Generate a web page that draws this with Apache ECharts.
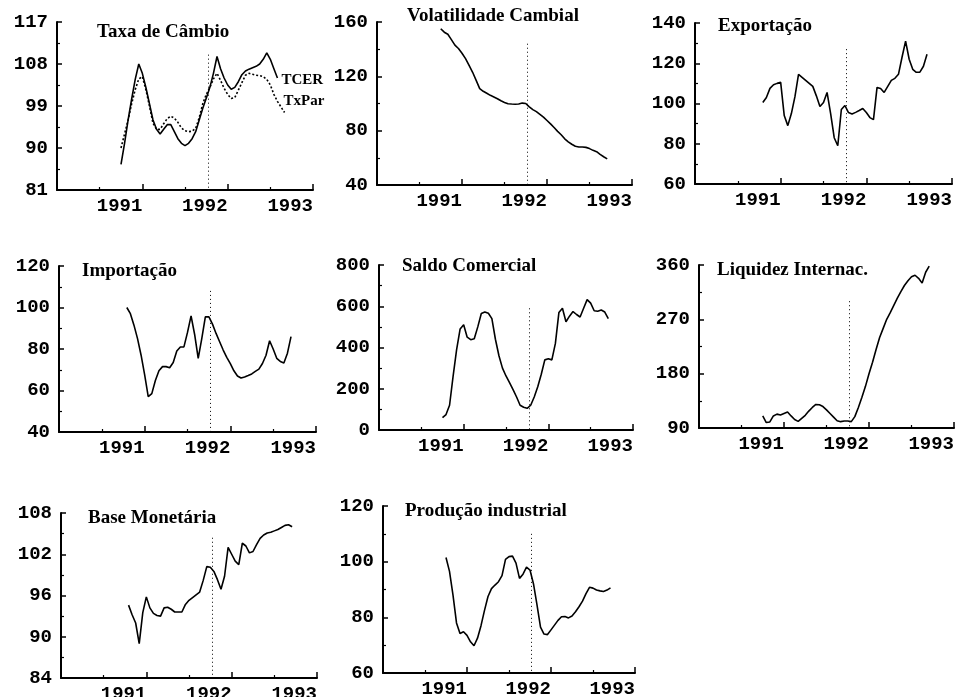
<!DOCTYPE html>
<html>
<head>
<meta charset="utf-8">
<script src="https://cdn.jsdelivr.net/npm/echarts@6/dist/echarts.min.js"></script>
<style>
  html, body { margin: 0; padding: 0; background: #fff; }
  #chart { width: 958px; height: 697px; }
</style>
</head>
<body>
<div id="chart"></div>
<script>
// Semi-monthly observations, Oct 1990 – Sep 1992
const dates = [
  '1990-10-01','1990-10-16','1990-11-01','1990-11-16','1990-12-01','1990-12-16',
  '1991-01-01','1991-01-16','1991-02-01','1991-02-16','1991-03-01','1991-03-16',
  '1991-04-01','1991-04-16','1991-05-01','1991-05-16','1991-06-01','1991-06-16',
  '1991-07-01','1991-07-16','1991-08-01','1991-08-16','1991-09-01','1991-09-16',
  '1991-10-01','1991-10-16','1991-11-01','1991-11-16','1991-12-01','1991-12-16',
  '1992-01-01','1992-01-16','1992-02-01','1992-02-16','1992-03-01','1992-03-16',
  '1992-04-01','1992-04-16','1992-05-01','1992-05-16','1992-06-01','1992-06-16',
  '1992-07-01','1992-07-16','1992-08-01','1992-08-16','1992-09-01','1992-09-16'
];

// Date of the event marked by the dotted vertical line
const markerDate = '1991-10-08';

const tcer = [86.5,91,96,100.5,104.7,108,106,103,99.5,96,
  94,93,94,95,95,93.5,92,91,90.5,91,
  92,93.5,96,98.5,100.7,103,106,109.6,107,105,
  103.5,102.6,103,104.2,105.7,106.5,106.9,107.2,107.5,108,
  109,110.4,109,107,105];

const txpar = [90,93,96,99.5,102.5,104.8,105.3,102.5,99,95.3,
  94,94,95.2,96.3,96.8,96.4,95.5,94.3,93.7,93.5,
  93.6,94.2,96.5,99.5,101.5,103,104.8,106,104.5,102.8,
  101.5,100.6,100.8,102.4,104,105.6,106,105.8,105.6,105.5,
  105.3,104.7,103.5,101.5,100,98.8,97.6];

const volatilidade = [155,152.5,151,147,143,140.5,137,133,128,123,
  117,111,109,107.5,106,104.8,103.5,102,100.8,99.8,
  99.6,99.5,99.6,100.3,100,97.5,95.5,94,92,90,
  87.5,85,82.3,79.5,77,74,71.8,70,68.5,68,
  68,67.7,66.8,65.5,64.5,62.5,60.8,59.2];

const exportacao = [null,100.5,103,107.5,109.3,110,110.5,94,89,95,
  103.4,114.5,113,111.5,110,108.5,103.8,98.5,100.5,105.5,
  95,83,79,97,99,95.5,94.8,95.6,96.5,97.5,
  95.5,93,92,108,107.5,105.5,108.5,111.5,112.5,114.5,
  123,131,122,117,115.5,115.6,118.5,124.5];

const importacao = [null,100,97,91.5,85,77,67.5,57,58.5,64.8,
  69.5,71.5,71.5,71,73.5,79,81,81,88,96,
  87,75.5,85,95.5,95.5,92,87.5,83.5,79.5,76,
  73,69.5,67,66,66.5,67.2,68,69.2,70.3,73,
  77,84,80,75.5,74,73.3,78,86];

const saldo = [60,75,120,260,390,490,510,450,438,442,
  500,565,572,566,540,440,360,300,262,230,
  196,160,120,110,105,120,160,210,270,340,
  345,340,420,570,590,525,552,574,560,548,
  590,632,615,578,576,582,572,540];

const liquidez = [110,99,100,110,113,111.5,114,116.5,110,104,
  101,106,111,118,124,129,128.5,125.5,120,114,
  108,102,100.5,101.5,101.5,100.5,108.8,124,141,159,
  180,199,220,240,255,270,281,293,305,316,
  326,334,340.5,343,338,330,348,358];

const baseMonetaria = [null,94.6,93.2,92,89,93.5,95.8,94.2,93.4,93.1,
  93,94.2,94.3,94,93.6,93.6,93.6,94.7,95.3,95.7,
  96.1,96.5,98.2,100.2,100.1,99.5,98.3,96.9,98.8,103,
  102,101,100.5,103.6,103.2,102.2,102.4,103.4,104.3,104.8,
  105.1,105.2,105.4,105.6,105.9,106.2,106.3,106];

const producao = [101.5,96.5,88,78,74.2,74.8,73.5,71.2,69.8,72.5,
  77,82.5,87.5,90.3,91.6,92.8,95,100.8,101.8,102,
  99.5,94,95.5,98,97,92,84.5,76.5,74,73.8,
  75.5,77.2,78.9,80.2,80.3,79.8,80.5,82,83.8,85.8,
  88.5,90.8,90.5,89.8,89.5,89.3,89.8,90.6];

// Y scales: [min, max, step] per panel
const yScales = [[81,117,9],[40,160,40],[60,140,20],[40,120,20],[0,800,200],[90,360,90],[84,108,6],[60,120,20]];
// Upper end of the event line, in each panel's own units
const markerTops = [110,144,127,108,590,300,104.4,110];
const titles = ['Taxa de Câmbio','Volatilidade Cambial','Exportação','Importação',
  'Saldo Comercial','Liquidez Internac.','Base Monetária','Produção industrial'];
const xYears = [1990, 1993, 1];

function toYear(s) {
  const [y, m, d] = s.split('-').map(Number);
  return y + (m - 1) / 12 + (d - 1) / 360;
}
const xs = dates.map(toYear);
const markerX = toYear(markerDate);

// Layout of the 3x3 grid of panels (last cell empty)
const boxes = [
  [57,22,256,168],[377,22,255,163],[695,23,257,161],
  [59,266,257,166],[379,265,254,165],[699,265,255,163],
  [61,513,256,165],[383,506,252,167]
];
const titlePos = [[97,23],[407,7],[718,17],[82,262],[402,257],[717,261],[88,509],[405,502]];

const panelSeries = [
  [{ name: 'TCER', values: tcer, dash: 'solid', end: { text: 'TCER', offset: [-1, 2] } },
   { name: 'TxPar', values: txpar, dash: [2, 2], end: { text: 'TxPar', offset: [-6, -11] } }],
  [{ name: 'Volatilidade', values: volatilidade, dash: 'solid' }],
  [{ name: 'Exportação', values: exportacao, dash: 'solid' }],
  [{ name: 'Importação', values: importacao, dash: 'solid' }],
  [{ name: 'Saldo', values: saldo, dash: 'solid' }],
  [{ name: 'Liquidez', values: liquidez, dash: 'solid' }],
  [{ name: 'Base', values: baseMonetaria, dash: 'solid' }],
  [{ name: 'Produção', values: producao, dash: 'solid' }]
];

const monoFont = { fontFamily: 'Liberation Mono', fontWeight: 'bold', fontSize: 19, color: '#000' };
const serifFont = { fontFamily: 'Liberation Serif', fontWeight: 'bold', color: '#000' };

const grid = [], xAxis = [], yAxis = [], title = [], series = [];

boxes.forEach((b, i) => {
  grid.push({ left: b[0], top: b[1], width: b[2], height: b[3], outerBoundsMode: 'none' });
  xAxis.push({
    type: 'value', gridIndex: i, min: xYears[0], max: xYears[1], interval: xYears[2],
    axisLine: { onZero: false, lineStyle: { color: '#000', width: 2 } },
    axisTick: { inside: true, length: 6, lineStyle: { color: '#000', width: 1.5 } },
    minorTick: { show: true, splitNumber: 2, length: 3, lineStyle: { color: '#000', width: 1.2 } },
    splitLine: { show: false },
    axisLabel: Object.assign({ formatter: v => (v === xYears[0] ? '' : String(v)), align: 'right', margin: 7 }, monoFont)
  });
  const [ymin, ymax, ystep] = yScales[i];
  yAxis.push({
    type: 'value', gridIndex: i, min: ymin, max: ymax, interval: ystep,
    axisLine: { show: true, onZero: false, lineStyle: { color: '#000', width: 2 } },
    axisTick: { show: true, inside: true, length: 5, lineStyle: { color: '#000', width: 1.5 } },
    minorTick: { show: true, splitNumber: 2, length: 3, lineStyle: { color: '#000', width: 1.2 } },
    splitLine: { show: false },
    axisLabel: Object.assign({ margin: 9 }, monoFont)
  });
  title.push({
    text: titles[i], left: titlePos[i][0], top: titlePos[i][1], padding: 0,
    textStyle: Object.assign({ fontSize: 19 }, serifFont)
  });
  panelSeries[i].forEach((s, k) => {
    const ser = {
      type: 'line', name: s.name, xAxisIndex: i, yAxisIndex: i,
      data: s.values.map((v, j) => [xs[j], v]),
      symbol: 'none', silent: true, animation: false,
      lineStyle: { color: '#000', width: 1.6, type: s.dash }
    };
    if (s.end) {
      ser.endLabel = Object.assign({
        show: true, formatter: s.end.text, distance: 5, offset: s.end.offset, fontSize: 15
      }, serifFont);
    }
    if (k === 0) {
      ser.markLine = {
        symbol: 'none', silent: true, animation: false, label: { show: false },
        lineStyle: { color: '#000', width: 1, type: [1, 3] },
        data: [[{ coord: [markerX, markerTops[i]] }, { coord: [markerX, ymin] }]]
      };
    }
    series.push(ser);
  });
});

const chart = echarts.init(document.getElementById('chart'), null, { renderer: 'canvas' });
chart.setOption({ backgroundColor: '#fff', animation: false, grid, xAxis, yAxis, title, series });
</script>
</body>
</html>
